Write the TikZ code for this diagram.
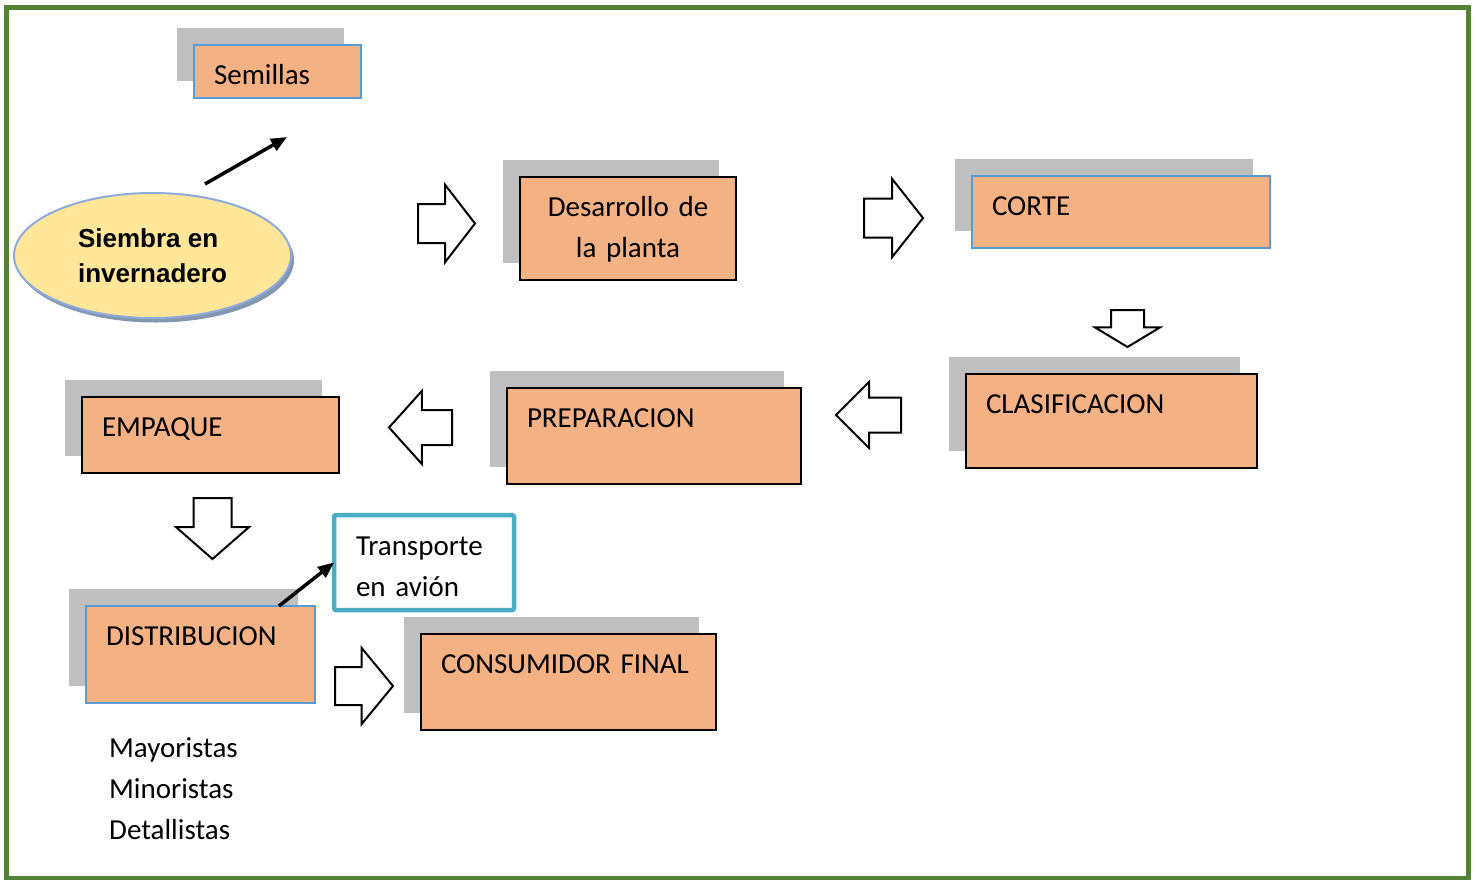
\documentclass[tikz,border=0pt]{standalone}
\usepackage{fontspec}
\setmainfont{Carlito}
\newfontfamily\arialfont{Liberation Sans}
\usepackage{tikz}
\newcommand*{\bodyfont}{\fontsize{29}{41}\selectfont}
\newcommand*{\boldfont}{\arialfont\bfseries\fontsize{26}{35}\selectfont}
\usetikzlibrary{arrows.meta, shapes.geometric, shapes.arrows, shadows}
\definecolor{peach}{RGB}{244,177,131}
\definecolor{shadowgray}{RGB}{191,191,191}
\definecolor{edgeblue}{RGB}{91,155,213}
\definecolor{planeblue}{RGB}{75,172,198}
\definecolor{cream}{RGB}{255,230,153}
\definecolor{ringblue}{RGB}{143,170,220}
\definecolor{ringshade}{RGB}{132,151,176}
\definecolor{leafgreen}{RGB}{84,130,53}
\tikzstyle{stage} = [draw=black, line width=2pt, fill=peach, anchor=north west, inner xsep=20pt, inner ysep=0pt, outer sep=0pt, text height=39pt, align=left, font=\bodyfont, drop shadow={shadow xshift=-17pt, shadow yshift=17pt, fill=shadowgray, opacity=1}]
\tikzstyle{bluestage} = [stage, draw=edgeblue]
\tikzstyle{listtext} = [font=\bodyfont, align=left, inner sep=0pt, anchor=north west]
\tikzstyle{pointer} = [-{Triangle[length=16pt, width=13pt]}, line width=3.5pt]
\tikzstyle{bigarrow} = [single arrow, draw, line width=2pt, fill=white, outer sep=0pt, anchor=tip]

\begin{document}
\begin{tikzpicture}[x=1pt, y=-1pt]
    \useasboundingbox (0,0) rectangle (1478,879);
    \draw [leafgreen, line width=4.5pt] (6.5,7.5) rectangle (1468.5,878);

    % Start.
    \node (siembra) [ellipse, draw=ringblue, line width=2pt, fill=cream, minimum width=277pt, minimum height=125pt, inner sep=0pt, align=left, font=\boldfont, drop shadow={shadow xshift=3pt, shadow yshift=-4.5pt, fill=ringshade, opacity=1}] at (152.5,255.5) {Siembra en\\invernadero};
    \node (semillas) [bluestage, text width=127pt, text depth=14pt] at (194,45) {Semillas};

    % Stages.
    \node (desarrollo) [stage, align=center, text width=176pt, text depth=64pt] at (520,177) {Desarrollo de\\la planta};
    \node (corte) [bluestage, text width=258pt, text depth=33pt] at (972,176) {CORTE};
    \node (clasificacion) [stage, text width=251pt, text depth=55pt] at (966,374) {CLASIFICACION};
    \node (preparacion) [stage, text width=254pt, text depth=57pt] at (507,388) {PREPARACION};
    \node (empaque) [stage, text width=217pt, text depth=37pt] at (82,397) {EMPAQUE};
    \node (distribucion) [bluestage, text width=189pt, text depth=58pt] at (86,606) {DISTRIBUCION};
    \node (consumidor) [stage, text width=255pt, text depth=57pt] at (421,634) {CONSUMIDOR FINAL};

    % Transport and buyers.
    \node (transporte) [draw=planeblue, line width=4.5pt, fill=white, rounded corners=2pt, anchor=north west, inner xsep=22pt, inner ysep=0pt, outer sep=0pt, text height=40pt, text depth=55pt, text width=136pt, align=left, font=\bodyfont] at (334,515) {Transporte\\en avión};
    \node (clientes) [listtext, text height=21pt, text width=140pt] at (109,736) {Mayoristas\\Minoristas\\Detallistas};

    % Flow arrows, placed by their tips.
    \foreach \x/\y/\len/\wid/\ext/\tip/\dir [count=\i] in {475/223.5/57/75/19/104.6/0, 923/218/59/76/19.5/103.4/0, 1127.5/347/37/63/16/117.8/270, 836/415/65/64/15.5/90/180, 389/427.5/63/71/19/96/180, 212.5/559/61/71/17.5/97.7/270, 393/686/58/74/19/101/0} {
        \pgfmathsetmacro\across{(\wid-2*\ext)/2}
        \pgfmathsetmacro\xs{(\dir==270)*\across}
        \pgfmathsetmacro\ys{(\dir!=270)*\across}
        \node (flow\i) [bigarrow, inner xsep=\xs pt, inner ysep=\ys pt, minimum height=\len pt, minimum width=\wid pt, single arrow head extend=\ext pt, single arrow tip angle=\tip, shape border rotate=\dir] at (\x,\y) {};
    }

    % Pointers.
    \coordinate (sowstart) at (205,184);
    \coordinate (sowend) at (287,137);
    \draw [pointer] (sowstart) -- (sowend);
    \draw [pointer] ([xshift=-36pt]distribucion.north east) -- (transporte.west);
\end{tikzpicture}
\end{document}
